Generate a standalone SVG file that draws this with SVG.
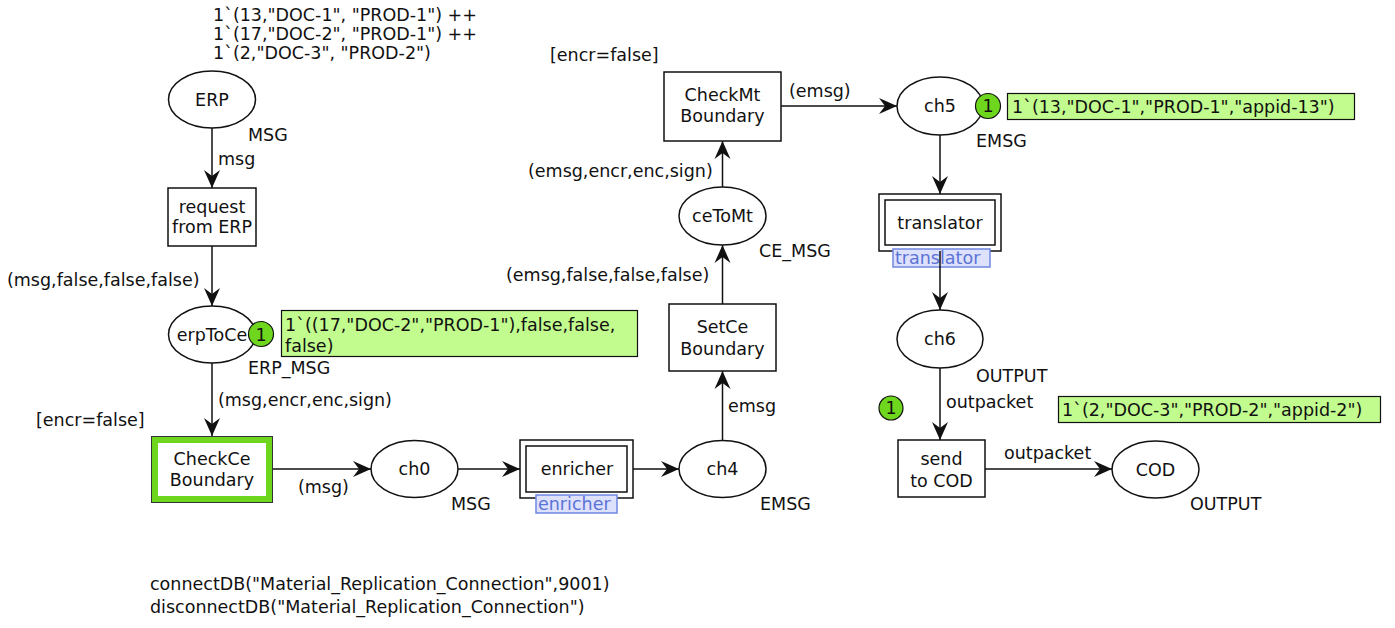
<svg xmlns="http://www.w3.org/2000/svg" width="1395" height="628" viewBox="0 0 1395 628">
<style>
text{font-family:"DejaVu Sans",Verdana,sans-serif;font-size:17.5px;fill:#111}
.c{text-anchor:middle}
.pl{fill:#fff;stroke:#111;stroke-width:1.5}
.tr{fill:#fff;stroke:#111;stroke-width:1.5}
.arc{fill:none;stroke:#111;stroke-width:1.5;marker-end:url(#ah)}
.tok{fill:#6fd61e;stroke:#111;stroke-width:1.2}
.mk{fill:#c2fc8e;stroke:#111;stroke-width:1.2}
.tag{fill:#dde1fb;stroke:#6f86e0;stroke-width:1.5}
.tagt{fill:#5b73d6}
</style>
<defs>
<marker id="ah" viewBox="-19 -9 20 18" refX="0" refY="0" markerWidth="20" markerHeight="18" markerUnits="userSpaceOnUse" orient="auto">
<path d="M0,0 L-18,-8 L-12,0 L-18,8 z" fill="#111"/>
</marker>
</defs>

<g id="connectors">
<line class="arc" x1="212" y1="128" x2="212" y2="188"/>
<line class="arc" x1="212" y1="246" x2="212" y2="306"/>
<line class="arc" x1="212" y1="363" x2="212" y2="436"/>
<line class="arc" x1="273" y1="469" x2="371" y2="469"/>
<line class="arc" x1="458" y1="469" x2="520" y2="469"/>
<line class="arc" x1="633" y1="469" x2="679" y2="469"/>
<line class="arc" x1="722.5" y1="440" x2="722.5" y2="371"/>
<line class="arc" x1="722.5" y1="304" x2="722.5" y2="245"/>
<line class="arc" x1="722.5" y1="187" x2="722.5" y2="141"/>
<line class="arc" x1="781" y1="106" x2="897" y2="106"/>
<line class="arc" x1="940" y1="135" x2="940" y2="194"/>
<line class="arc" x1="940" y1="251" x2="940" y2="310"/>
<line class="arc" x1="940" y1="368" x2="940" y2="440"/>
<line class="arc" x1="985" y1="469" x2="1112" y2="469"/>
<text x="218" y="165">msg</text>
<text x="7" y="286">(msg,false,false,false)</text>
<text x="218" y="406">(msg,encr,enc,sign)</text>
<text x="298" y="493">(msg)</text>
<text x="728" y="412">emsg</text>
<text x="506" y="281">(emsg,false,false,false)</text>
<text x="528" y="177">(emsg,encr,enc,sign)</text>
<text x="789" y="97">(emsg)</text>
<text x="946" y="408">outpacket</text>
<text x="1004" y="459">outpacket</text>
</g>

<g id="ERP">
<ellipse class="pl" cx="212" cy="99.5" rx="43.5" ry="28.5"/>
<text class="c" x="212" y="106">ERP</text>
<text x="248" y="141">MSG</text>
<text x="213" y="21">1`(13,"DOC-1", "PROD-1") ++</text>
<text x="213" y="40">1`(17,"DOC-2", "PROD-1") ++</text>
<text x="213" y="59">1`(2,"DOC-3", "PROD-2")</text>
</g>

<g id="request">
<rect class="tr" x="168" y="188" width="88" height="58"/>
<text class="c" x="212" y="213">request</text>
<text class="c" x="212" y="233">from ERP</text>
</g>

<g id="erpToCe">
<ellipse class="pl" cx="212" cy="334.5" rx="43.5" ry="28.5"/>
<text class="c" x="212" y="341">erpToCe</text>
<text x="248" y="374">ERP_MSG</text>
<circle class="tok" cx="261" cy="334" r="12.5"/>
<text class="c" x="261" y="341">1</text>
<rect class="mk" x="281.5" y="310.5" width="356" height="46"/>
<text x="285" y="331">1`((17,"DOC-2","PROD-1"),false,false,</text>
<text x="285" y="352">false)</text>
</g>

<g id="CheckCe">
<rect x="151.5" y="436.5" width="121" height="66" fill="#6fd61e" stroke="#333" stroke-width="1"/>
<rect x="158" y="443" width="108" height="53" fill="#fff"/>
<text class="c" x="212" y="465">CheckCe</text>
<text class="c" x="212" y="486">Boundary</text>
<text x="36" y="426">[encr=false]</text>
</g>

<g id="ch0">
<ellipse class="pl" cx="414.5" cy="469" rx="43.5" ry="28.5"/>
<text class="c" x="414.5" y="475">ch0</text>
<text x="451" y="510">MSG</text>
</g>

<g id="enricher">
<rect class="tr" x="520" y="440" width="113" height="58"/>
<rect class="tr" x="526" y="446" width="101" height="46"/>
<text class="c" x="577" y="475">enricher</text>
<rect class="tag" x="536" y="495" width="81" height="18"/>
<text class="tagt" x="538" y="510">enricher</text>
</g>

<g id="ch4">
<ellipse class="pl" cx="722.5" cy="469" rx="43.5" ry="28.5"/>
<text class="c" x="722.5" y="475">ch4</text>
<text x="760" y="510">EMSG</text>
</g>

<g id="SetCe">
<rect class="tr" x="669" y="304" width="107" height="67"/>
<text class="c" x="722.5" y="333">SetCe</text>
<text class="c" x="722.5" y="355">Boundary</text>
</g>

<g id="ceToMt">
<ellipse class="pl" cx="722.5" cy="216" rx="43.5" ry="29"/>
<text class="c" x="722.5" y="222">ceToMt</text>
<text x="759" y="257">CE_MSG</text>
</g>

<g id="CheckMt">
<rect class="tr" x="664" y="72" width="117" height="69"/>
<text class="c" x="722.5" y="101">CheckMt</text>
<text class="c" x="722.5" y="122">Boundary</text>
<text x="550" y="61">[encr=false]</text>
</g>

<g id="ch5">
<ellipse class="pl" cx="940" cy="106" rx="43" ry="29"/>
<text class="c" x="940" y="112">ch5</text>
<text x="976" y="147">EMSG</text>
<circle class="tok" cx="988" cy="106" r="12.5"/>
<text class="c" x="988" y="112">1</text>
<rect class="mk" x="1007.5" y="93.5" width="347" height="26"/>
<text x="1012" y="113">1`(13,"DOC-1","PROD-1","appid-13")</text>
</g>

<g id="translator">
<rect class="tr" x="879" y="194" width="122" height="57"/>
<rect class="tr" x="885" y="200" width="110" height="45"/>
<text class="c" x="940" y="229">translator</text>
<rect class="tag" x="893" y="249" width="97" height="18"/>
<text class="tagt" x="895" y="264">translator</text>
<line x1="940" y1="251" x2="940" y2="268" stroke="#111" stroke-width="1.5"/>
</g>

<g id="ch6">
<ellipse class="pl" cx="940" cy="339" rx="43" ry="29"/>
<text class="c" x="940" y="345">ch6</text>
<text x="976" y="382">OUTPUT</text>
</g>

<g id="sendCOD">
<rect class="tr" x="898" y="440" width="87" height="57"/>
<text class="c" x="941.5" y="465">send</text>
<text class="c" x="941.5" y="487">to COD</text>
<circle class="tok" cx="891" cy="408" r="12"/>
<text class="c" x="891" y="414">1</text>
<rect class="mk" x="1058.5" y="396.5" width="322" height="26"/>
<text x="1062" y="416">1`(2,"DOC-3","PROD-2","appid-2")</text>
</g>

<g id="COD">
<ellipse class="pl" cx="1155.5" cy="469.5" rx="43.5" ry="28.5"/>
<text class="c" x="1155.5" y="476">COD</text>
<text x="1190" y="510">OUTPUT</text>
</g>

<g id="declarations">
<text x="150" y="590">connectDB("Material_Replication_Connection",9001)</text>
<text x="150" y="613">disconnectDB("Material_Replication_Connection")</text>
</g>
</svg>
